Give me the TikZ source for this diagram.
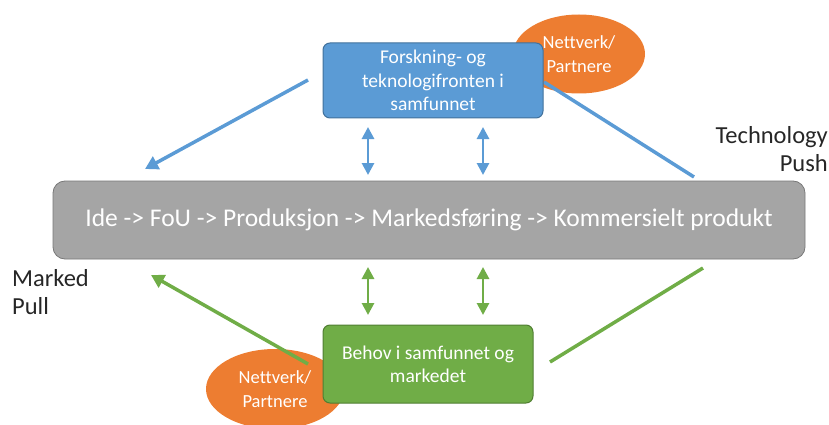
\documentclass[tikz,border=0pt]{standalone}
\usepackage{fontspec}
\setmainfont{Carlito}[Ligatures=CommonOff]
\usetikzlibrary{arrows.meta,shapes.geometric}
\definecolor{pblue}{HTML}{5B9BD5}
\definecolor{pbluedk}{HTML}{41719C}
\definecolor{porange}{HTML}{ED7D31}
\definecolor{pgreen}{HTML}{70AD47}
\definecolor{pgreendk}{HTML}{507E32}
\definecolor{pgrey}{HTML}{A5A5A5}
\definecolor{pgreydk}{HTML}{787878}
\tikzset{
  boxstyle/.style={rounded corners=7pt, text=white, align=center, font=\fontsize{19.5}{23.5}\selectfont, line width=1pt},
  ellstyle/.style={ellipse, fill=porange, draw=none, text=white, align=center, font=\fontsize{18.5}{24}\selectfont, inner sep=0pt},
  bluelink/.style={pblue, line width=3.5pt},
  greenlink/.style={pgreen, line width=3.5pt},
  twoway/.style={line width=2.8pt, {Triangle[length=12pt,width=12pt]}-{Triangle[length=12pt,width=12pt]}},
  sidelabel/.style={font=\fontsize{24.5}{28}\selectfont, inner sep=0pt, text=black!85}
}
\begin{document}
\begin{tikzpicture}[x=1pt,y=-1pt]
\useasboundingbox (0,0) rectangle (829,425);

% top: research and technology frontier
\node[ellstyle, minimum width=132pt, minimum height=79pt] (netTop) at (579,54) {Nettverk/\\Partnere};
\coordinate (pushStart) at (544,82);
\coordinate (pushEnd) at (694,177);
\draw[bluelink] (pushStart) -- (pushEnd);
\node[boxstyle, fill=pblue, draw=pbluedk, minimum width=220pt, minimum height=75pt] (research) at (433,80.5) {Forskning- og\\teknologifronten i\\samfunnet};

% central process
\node[rounded corners=12pt, fill=pgrey, draw=pgreydk, line width=0.8pt, minimum width=752pt, minimum height=78pt, text=white, font=\fontsize{25.5}{30}\selectfont] (process) at (429,220) {Ide -> FoU -> Produksjon -> Markedsføring -> Kommersielt produkt};

% bottom: needs in society and market
\node[ellstyle, minimum width=138pt, minimum height=80pt] (netBot) at (275,389) {Nettverk/\\Partnere};
\coordinate (pullStart) at (308,364);
\coordinate (pullEnd) at (151,275);
\draw[greenlink, -{Triangle[length=13pt,width=14pt]}] (pullStart) -- (pullEnd);
\node[boxstyle, fill=pgreen, draw=pgreendk, minimum width=210pt, minimum height=78pt, font=\fontsize{19.5}{23}\selectfont] (needs) at (428,364) {Behov i samfunnet og\\markedet};

% blue push arrow into the process
\coordinate (pushA) at (308,80);
\coordinate (pushB) at (145,169);
\draw[bluelink, -{Triangle[length=13pt,width=14pt]}] (pushA) -- (pushB);

% green line on the right
\coordinate (pullC) at (550,362);
\coordinate (pullD) at (703,268);
\draw[greenlink] (pullC) -- (pullD);

% two-way links
\coordinate (b1t) at (368,127); \coordinate (b1b) at (368,175);
\coordinate (b2t) at (483,127); \coordinate (b2b) at (483,175);
\draw[twoway, pblue] (b1t) -- (b1b);
\draw[twoway, pblue] (b2t) -- (b2b);
\coordinate (g1t) at (368,267); \coordinate (g1b) at (368,315);
\coordinate (g2t) at (483,267); \coordinate (g2b) at (483,315);
\draw[twoway, pgreen] (g1t) -- (g1b);
\draw[twoway, pgreen] (g2t) -- (g2b);

% side labels (base anchor sits on the last line)
\node[sidelabel, anchor=base east, align=right] (push) at (828,171) {Technology\\Push};
\node[sidelabel, anchor=base west, align=left] (pull) at (12,314) {Marked\\Pull};
\end{tikzpicture}
\end{document}
